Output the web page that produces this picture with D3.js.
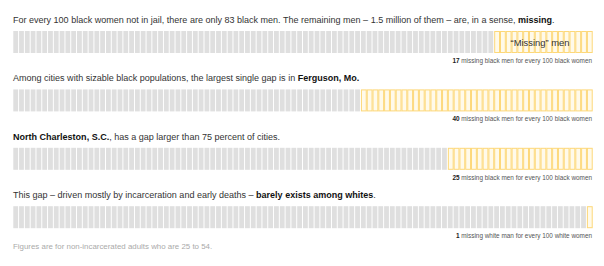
<!DOCTYPE html>
<html>
<head>
<meta charset="utf-8">
<script src="https://cdn.jsdelivr.net/npm/d3@7"></script>
<style>
  body { margin: 0; background: #fff; }
  text { font-family: "Liberation Sans", Arial, sans-serif; }
</style>
</head>
<body>
<div id="plot"></div>
<script>
// Missing men rows: each row is 100 columns, present (gray) vs missing (yellow)
const titles = [
  [{ t: 'For every 100 black women not in jail, there are only 83 black men. The remaining men – 1.5 million of them – are, in a sense, ' }, { t: 'missing', b: true }, { t: '.' }],
  [{ t: 'Among cities with sizable black populations, the largest single gap is in ' }, { t: 'Ferguson, Mo.', b: true }],
  [{ t: 'North Charleston, S.C.', b: true }, { t: ', has a gap larger than 75 percent of cities.' }],
  [{ t: 'This gap – driven mostly by incarceration and early deaths – ' }, { t: 'barely exists among whites', b: true }, { t: '.' }],
];
const missing = [17, 40, 25, 1];
const notes = [
  ' missing black men for every 100 black women',
  ' missing black men for every 100 black women',
  ' missing black men for every 100 black women',
  ' missing white man for every 100 white women',
];
const footer = 'Figures are for non-incarcerated adults who are 25 to 54.';

const W = 604, H = 266;
const left = 13, right = 592;
const rowTop = 31, rowStep = 58.4, barH = 22;

const svg = d3.select('#plot').append('svg').attr('width', W).attr('height', H);

const x = d3.scaleBand().domain(d3.range(100)).range([left, right]).paddingInner(0.17).paddingOuter(0.05);
const y = d3.scaleLinear().domain([0, 1]).range([rowTop, rowTop + rowStep]);

// fit the type to the widths seen in the reference
function fitSize(node, target, base) {
  const w = node.getComputedTextLength();
  return (base * target) / w;
}

const titleNodes = [];
const noteNodes = [];

missing.forEach((m, i) => {
  const y0 = y(i);

  const title = svg.append('text').attr('x', left).attr('y', y0 - 8).style('font-size', '10px').style('fill', '#333');
  titles[i].forEach((p) => {
    title.append('tspan').style('font-weight', p.b ? 'bold' : 'normal').style('fill', p.b ? '#111' : '#333').text(p.t);
  });
  titleNodes.push(title);

  const cols = d3.range(100).map((k) => ({ k, miss: k >= 100 - m }));
  svg.append('g').selectAll('rect').data(cols).enter().append('rect')
    .attr('x', (d) => x(d.k) + (d.miss ? 0.5 : 0))
    .attr('y', (d) => y0 + (d.miss ? 0.5 : 0))
    .attr('width', x.bandwidth())
    .attr('height', (d) => barH - (d.miss ? 1 : 0))
    .attr('fill', (d) => (d.miss ? '#fffaea' : '#dfdfdf'))
    .attr('stroke', (d) => (d.miss ? '#fdd879' : 'none'))
    .attr('stroke-width', 1);

  if (i === 0) {
    svg.append('text').attr('x', 540).attr('y', y0 + 15).attr('text-anchor', 'middle')
      .style('font-size', '9.4px').style('fill', '#333').text('“Missing” men');
  }

  const note = svg.append('text').attr('x', right).attr('y', y0 + barH + 10).attr('text-anchor', 'end')
    .style('font-size', '7px').style('fill', '#555');
  note.append('tspan').style('font-weight', 'bold').style('fill', '#222').text(m);
  note.append('tspan').text(notes[i]);
  noteNodes.push(note);
});

const tSize = fitSize(titleNodes[0].node(), 542, 10);
titleNodes.forEach((t) => t.style('font-size', tSize + 'px'));
const nSize = fitSize(noteNodes[0].node(), 140, 7);
noteNodes.forEach((t) => t.style('font-size', nSize + 'px'));

svg.append('text').attr('x', left).attr('y', 249).style('font-size', '7.9px').style('fill', '#aaa').text(footer);
</script>
</body>
</html>
